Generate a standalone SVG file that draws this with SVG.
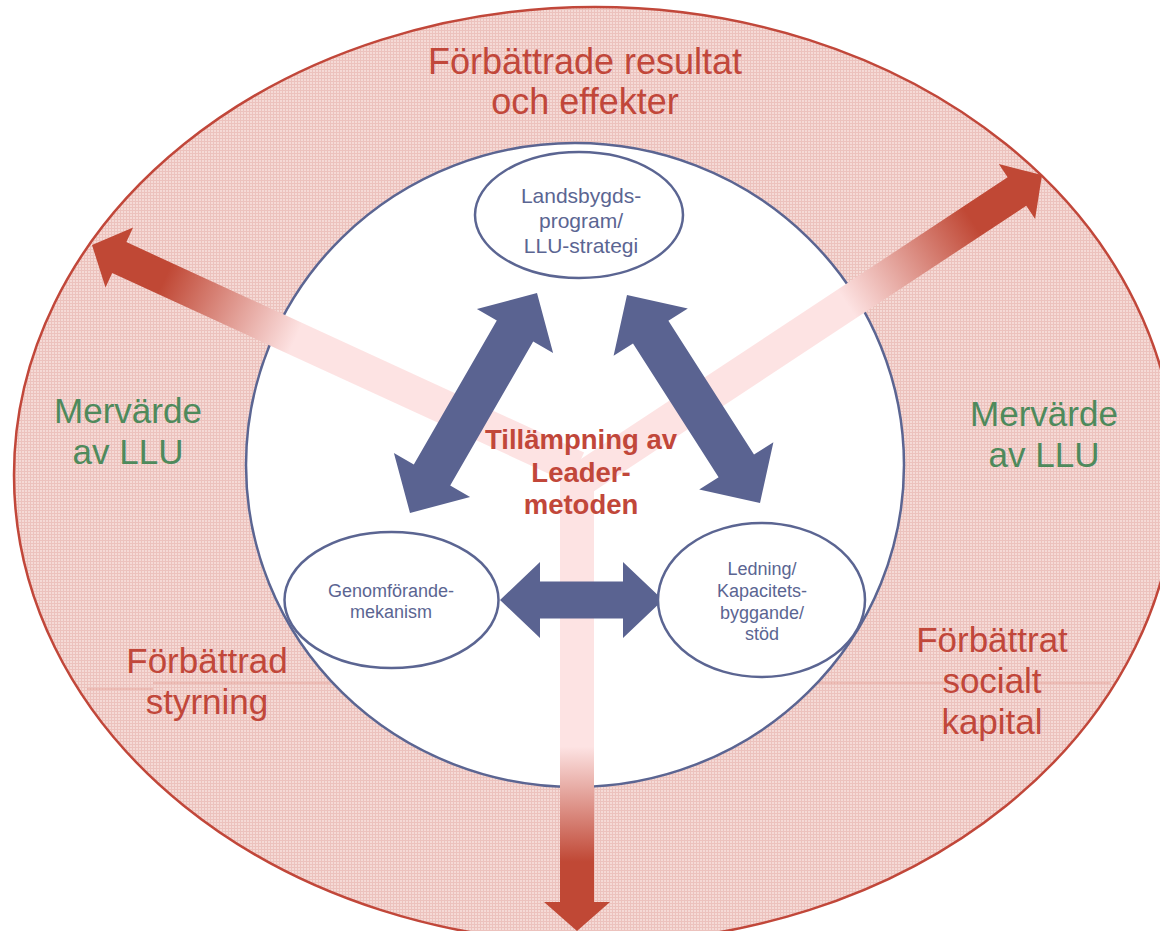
<svg xmlns="http://www.w3.org/2000/svg" width="1160" height="931" viewBox="0 0 1160 931">
<style>
.redt{font-family:"Liberation Sans",Arial,sans-serif;fill:#C1473A;text-anchor:middle}
.grnt{font-family:"Liberation Sans",Arial,sans-serif;fill:#4E8A5C;text-anchor:middle}
.blut{font-family:"Liberation Sans",Arial,sans-serif;fill:#5B6592;text-anchor:middle}
.node{fill:#FFFFFF;stroke:#5B6592;stroke-width:2.5}
.barrow{fill:#5A6391}
.faint{stroke:#E39A90;stroke-width:1;opacity:0.8}
</style>
<defs>
<pattern id="dots" width="3" height="3" patternUnits="userSpaceOnUse">
<rect width="3" height="3" fill="#F5DAD6"/>
<rect width="3" height="1" fill="#ECC2BD"/>
<rect width="1" height="3" fill="#ECC2BD"/>
</pattern>
<linearGradient id="gDown" gradientUnits="userSpaceOnUse" x1="577" y1="470" x2="577" y2="931">
<stop offset="0" stop-color="#FDE3E3"/><stop offset="0.6" stop-color="#FDE3E3"/><stop offset="0.85" stop-color="#C04835"/><stop offset="1" stop-color="#C04835"/>
</linearGradient>
<linearGradient id="gLeft" gradientUnits="userSpaceOnUse" x1="577" y1="468" x2="92" y2="245">
<stop offset="0" stop-color="#FDE3E3"/><stop offset="0.58" stop-color="#FDE3E3"/><stop offset="0.85" stop-color="#C04835"/><stop offset="1" stop-color="#C04835"/>
</linearGradient>
<linearGradient id="gRight" gradientUnits="userSpaceOnUse" x1="577" y1="482" x2="1042" y2="175">
<stop offset="0" stop-color="#FDE3E3"/><stop offset="0.58" stop-color="#FDE3E3"/><stop offset="0.85" stop-color="#C04835"/><stop offset="1" stop-color="#C04835"/>
</linearGradient>
</defs>

<g id="outer-ring">
<ellipse cx="595" cy="475" rx="581" ry="468" fill="url(#dots)" stroke="#C1473A" stroke-width="2.5"/>
<line class="faint" x1="87" y1="689" x2="153" y2="689"/>
<line class="faint" x1="153" y1="683" x2="330" y2="683"/>
<line class="faint" x1="818" y1="683" x2="1110" y2="683"/>
</g>

<g id="inner-circle">
<ellipse class="node" cx="575" cy="465" rx="329" ry="322"/>
</g>

<g id="connectors">
<polygon fill="url(#gDown)" points="560,470 594,470 594,902 610,902 577,931 544,902 560,902"/>
<polygon fill="url(#gLeft)" points="584.1,452.6 126.4,242.1 133.1,227.6 92,245 105.5,287.5 112.2,273 569.9,483.4"/>
<polygon fill="url(#gRight)" points="586.4,496.2 1026.3,205.7 1035.1,219.1 1042,175 998.8,164 1007.6,177.3 567.6,467.8"/>
<polygon class="barrow" points="537,293 553.1,353.1 533.2,341.6 450.2,485.4 470.1,496.9 410,513 393.9,452.9 413.8,464.4 496.8,320.6 476.9,309.1"/>
<polygon class="barrow" points="627,295 687.8,308.4 668.4,320.8 754,454.6 773.4,442.2 760,503 699.2,489.6 718.6,477.2 633,343.4 613.6,355.8"/>
<polygon class="barrow" points="500,600 540,562 540,581.5 623,581.5 623,562 663,600 623,638 623,618.5 540,618.5 540,638"/>
</g>

<g id="node-landsbygd">
<ellipse class="node" cx="579" cy="215" rx="104" ry="63"/>
<text class="blut" font-size="21"><tspan x="581" y="203">Landsbygds-</tspan><tspan x="581" y="228">program/</tspan><tspan x="581" y="253">LLU-strategi</tspan></text>
</g>

<g id="node-genomforande">
<ellipse class="node" cx="391.5" cy="600" rx="107" ry="68"/>
<text class="blut" font-size="18"><tspan x="391" y="597">Genomförande-</tspan><tspan x="391" y="618">mekanism</tspan></text>
</g>

<g id="node-ledning">
<ellipse class="node" cx="761.5" cy="600" rx="103.5" ry="77"/>
<text class="blut" font-size="18"><tspan x="762" y="575">Ledning/</tspan><tspan x="762" y="597">Kapacitets-</tspan><tspan x="762" y="618.5">byggande/</tspan><tspan x="762" y="640">stöd</tspan></text>
</g>

<g id="node-center">
<text class="redt" font-size="27.5" font-weight="bold"><tspan x="581" y="449">Tillämpning av</tspan><tspan x="581" y="482">Leader-</tspan><tspan x="581" y="514">metoden</tspan></text>
</g>

<g id="label-resultat">
<text class="redt" font-size="36"><tspan x="585" y="74">Förbättrade resultat</tspan><tspan x="585" y="114">och effekter</tspan></text>
</g>
<g id="label-mervarde-left">
<text class="grnt" font-size="35"><tspan x="128" y="423">Mervärde</tspan><tspan x="128" y="464">av LLU</tspan></text>
</g>
<g id="label-mervarde-right">
<text class="grnt" font-size="35"><tspan x="1044" y="426">Mervärde</tspan><tspan x="1044" y="467">av LLU</tspan></text>
</g>
<g id="label-styrning">
<text class="redt" font-size="35"><tspan x="207" y="673">Förbättrad</tspan><tspan x="207" y="714">styrning</tspan></text>
</g>
<g id="label-socialt">
<text class="redt" font-size="35"><tspan x="992" y="652">Förbättrat</tspan><tspan x="992" y="693">socialt</tspan><tspan x="992" y="734">kapital</tspan></text>
</g>
</svg>
